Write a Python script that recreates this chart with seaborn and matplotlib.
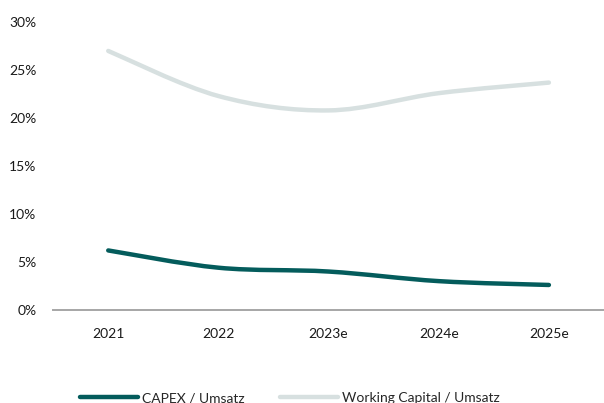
import numpy as np
import matplotlib
matplotlib.use("Agg")
import matplotlib.pyplot as plt
from matplotlib.path import Path
from matplotlib.patches import PathPatch
from matplotlib.lines import Line2D
from matplotlib.ticker import PercentFormatter
import seaborn as sns

years = ["2021", "2022", "2023e", "2024e", "2025e"]
capex = [6.2, 4.4, 4.0, 3.0, 2.6]
working_capital = [27.0, 22.3, 20.8, 22.6, 23.7]

series_names = ["CAPEX / Umsatz", "Working Capital / Umsatz"]
colors = ["#045c5c", "#d7e0e0"]

sns.set_theme(style="white")
plt.rcParams["font.family"] = ["Lato", "DejaVu Sans"]


def smooth_path(xs, ys):
    # Excel-like smoothed line: cubic Bezier segments through every point
    pts = np.column_stack([xs, ys]).astype(float)
    n = len(pts)
    verts = [pts[0]]
    codes = [Path.MOVETO]
    for i in range(n - 1):
        p_prev = pts[i - 1] if i > 0 else pts[i]
        p_next = pts[i + 2] if i + 2 < n else pts[i + 1]
        c1 = pts[i] + (pts[i + 1] - p_prev) / 6
        c2 = pts[i + 1] - (p_next - pts[i]) / 6
        verts += [c1, c2, pts[i + 1]]
        codes += [Path.CURVE4] * 3
    return Path(verts, codes)


fig, ax = plt.subplots(figsize=(6.04, 4.03), dpi=100)
fig.subplots_adjust(left=0.088, right=1.0, top=0.945, bottom=0.231)

x = np.arange(len(years))
for vals, col in zip([capex, working_capital], colors):
    patch = PathPatch(smooth_path(x, vals), facecolor="none", edgecolor=col,
                      lw=3.2, capstyle="round", joinstyle="round")
    ax.add_patch(patch)

ax.set_xlim(-0.5, len(years) - 0.5)
ax.set_ylim(0, 30)
ax.set_yticks([0, 5, 10, 15, 20, 25, 30])
ax.yaxis.set_major_formatter(PercentFormatter(decimals=0))
ax.set_xticks(x)
ax.set_xticklabels(years)
ax.tick_params(axis="both", length=0, labelsize=10, colors="#1a1a1a")
ax.tick_params(axis="x", pad=13)
ax.tick_params(axis="y", pad=12)

sns.despine(ax=ax, left=True)
ax.spines["bottom"].set_color("#a6a6a6")
ax.spines["bottom"].set_linewidth(1.4)

handles = [Line2D([0], [0], color=c, lw=3.2, solid_capstyle="round") for c in colors]
fig.legend(handles, series_names, loc="center", bbox_to_anchor=(0.48, 0.012),
           ncol=2, frameon=False, fontsize=10, handlelength=4.2,
           handletextpad=0.3, columnspacing=2.5)

fig.savefig("out.png", dpi=100)
